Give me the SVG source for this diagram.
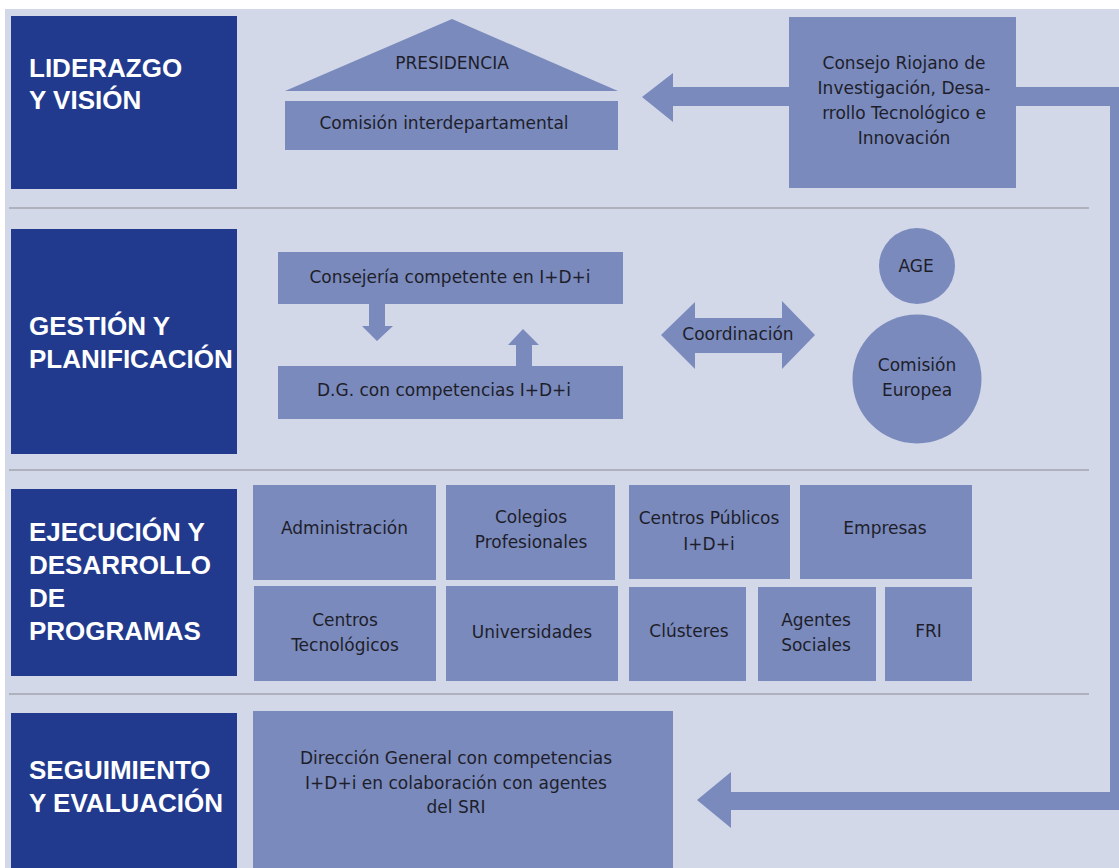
<svg xmlns="http://www.w3.org/2000/svg" width="1119" height="868" viewBox="0 0 1119 868">
<style>
.bg{fill:#D2D8E8}
.hdr{fill:#213A8E}
.nd{fill:#7A8ABD}
.ar{fill:#7A8ABD}
.sep{stroke:#A3A6AE;stroke-width:1.5}
.ht{font-family:"Liberation Sans",Arial,sans-serif;font-weight:bold;font-size:26px;fill:#FFFFFF}
.t{font-family:"DejaVu Sans",sans-serif;font-size:17px;fill:#1E1E2A;text-anchor:middle}
</style>
<rect x="0" y="0" width="1119" height="868" fill="#FFFFFF"/>
<rect class="bg" x="5" y="9" width="1114" height="859"/>
<g id="separators">
<line class="sep" x1="9" y1="208" x2="1089" y2="208"/>
<line class="sep" x1="9" y1="470" x2="1089" y2="470"/>
<line class="sep" x1="9" y1="694" x2="1089" y2="694"/>
</g>
<g id="connectors">
<polygon class="ar" points="789,87 673,87 673,73 642,97 673,122 673,106 789,106"/>
<polygon class="ar" points="1016,87 1119,87 1119,810 731,810 731,828 697,800 731,772 731,792 1110,792 1110,106 1016,106"/>
<polygon class="ar" points="369,304 385,304 385,326 393,326 377,341 362,326 369,326"/>
<polygon class="ar" points="516,366 516,345 508,345 523,329 539,345 532,345 532,366"/>
<polygon class="ar" points="661,335 695,302 695,318 782,318 782,301 815,335 782,369 782,353 695,353 695,369"/>
<text class="t" x="738" y="340">Coordinación</text>
</g>
<g id="h-liderazgo">
<rect class="hdr" x="11" y="16" width="226" height="173"/>
<text class="ht" x="29" y="77">LIDERAZGO</text>
<text class="ht" x="29" y="109">Y VISIÓN</text>
</g>
<g id="h-gestion">
<rect class="hdr" x="11" y="229" width="226" height="225"/>
<text class="ht" x="29" y="335">GESTIÓN Y</text>
<text class="ht" x="29" y="368">PLANIFICACIÓN</text>
</g>
<g id="h-ejecucion">
<rect class="hdr" x="11" y="489" width="226" height="187"/>
<text class="ht" x="29" y="541">EJECUCIÓN Y</text>
<text class="ht" x="29" y="574">DESARROLLO</text>
<text class="ht" x="29" y="607">DE</text>
<text class="ht" x="29" y="640">PROGRAMAS</text>
</g>
<g id="h-seguimiento">
<rect class="hdr" x="11" y="713" width="226" height="155"/>
<text class="ht" x="29" y="779">SEGUIMIENTO</text>
<text class="ht" x="29" y="812">Y EVALUACIÓN</text>
</g>
<g id="presidencia">
<polygon class="nd" points="452,19 618,91 285,91"/>
<text class="t" x="452" y="69">PRESIDENCIA</text>
</g>
<g id="comision-inter">
<rect class="nd" x="285" y="101" width="333" height="49"/>
<text class="t" x="444" y="129">Comisión interdepartamental</text>
</g>
<g id="consejo">
<rect class="nd" x="789" y="17" width="227" height="171"/>
<text class="t" x="904" y="69">Consejo Riojano de</text>
<text class="t" x="904" y="94">Investigación, Desa-</text>
<text class="t" x="904" y="119">rrollo Tecnológico e</text>
<text class="t" x="904" y="144">Innovación</text>
</g>
<g id="consejeria">
<rect class="nd" x="278" y="252" width="345" height="52"/>
<text class="t" x="450" y="283">Consejería competente en I+D+i</text>
</g>
<g id="dg">
<rect class="nd" x="278" y="366" width="345" height="53"/>
<text class="t" x="444" y="396">D.G. con competencias I+D+i</text>
</g>
<g id="age">
<circle class="nd" cx="917" cy="266" r="38"/>
<text class="t" x="916" y="272">AGE</text>
</g>
<g id="comision-europea">
<circle class="nd" cx="917" cy="379" r="64.5"/>
<text class="t" x="917" y="371">Comisión</text>
<text class="t" x="917" y="396">Europea</text>
</g>
<g id="administracion">
<rect class="nd" x="253" y="485" width="183" height="95"/>
<text class="t" x="344.5" y="534">Administración</text>
</g>
<g id="colegios">
<rect class="nd" x="446" y="485" width="169" height="95"/>
<text class="t" x="531" y="523">Colegios</text>
<text class="t" x="531" y="548">Profesionales</text>
</g>
<g id="centros-publicos">
<rect class="nd" x="629" y="485" width="161" height="94"/>
<text class="t" x="709" y="524">Centros Públicos</text>
<text class="t" x="709" y="550">I+D+i</text>
</g>
<g id="empresas">
<rect class="nd" x="800" y="485" width="172" height="94"/>
<text class="t" x="885" y="534">Empresas</text>
</g>
<g id="centros-tecnologicos">
<rect class="nd" x="254" y="586" width="182" height="95"/>
<text class="t" x="345" y="626">Centros</text>
<text class="t" x="345" y="651">Tecnológicos</text>
</g>
<g id="universidades">
<rect class="nd" x="446" y="586" width="172" height="95"/>
<text class="t" x="532" y="638">Universidades</text>
</g>
<g id="clusteres">
<rect class="nd" x="629" y="587" width="117" height="94"/>
<text class="t" x="689" y="637">Clústeres</text>
</g>
<g id="agentes-sociales">
<rect class="nd" x="758" y="587" width="118" height="94"/>
<text class="t" x="816" y="626">Agentes</text>
<text class="t" x="816" y="651">Sociales</text>
</g>
<g id="fri">
<rect class="nd" x="885" y="587" width="87" height="94"/>
<text class="t" x="928.5" y="637">FRI</text>
</g>
<g id="direccion-general">
<rect class="nd" x="253" y="711" width="420" height="157"/>
<text class="t" x="456" y="764">Dirección General con competencias</text>
<text class="t" x="456" y="789">I+D+i en colaboración con agentes</text>
<text class="t" x="456" y="813">del SRI</text>
</g>
</svg>
